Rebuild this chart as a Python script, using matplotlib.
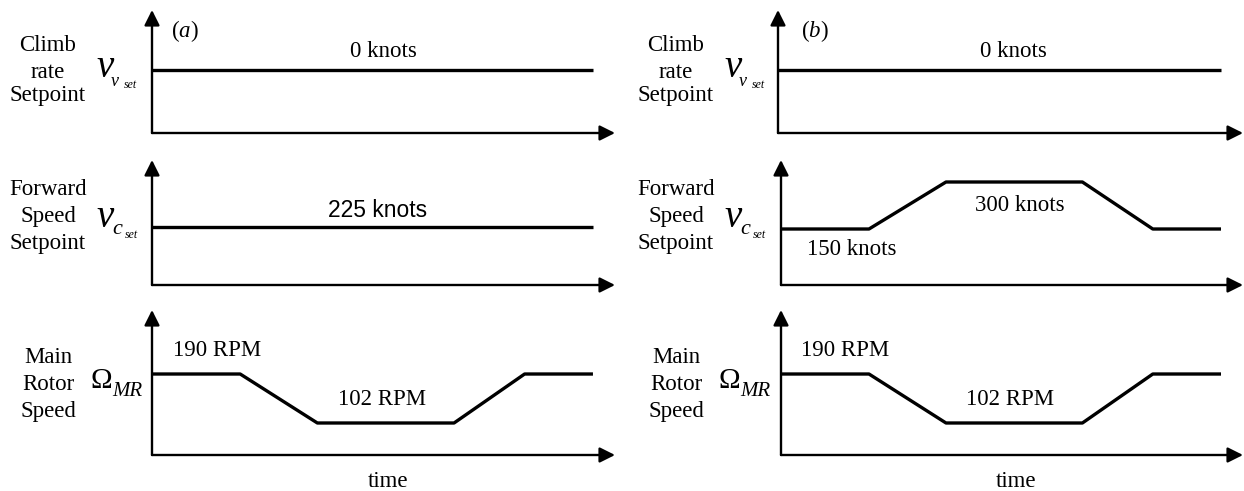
import numpy as np
import matplotlib
matplotlib.use('Agg')
import matplotlib.pyplot as plt

plt.rcParams['font.family'] = ['Liberation Serif', 'DejaVu Serif']
plt.rcParams['mathtext.fontset'] = 'custom'
plt.rcParams['mathtext.rm'] = 'Liberation Serif'
plt.rcParams['mathtext.it'] = 'Liberation Serif:italic'

W, H = 1244, 491

# schematic time breakpoints (arbitrary time units)
t_flat = [0, 10]
t_steps = [0, 2.0, 3.75, 6.85, 8.45, 10.0]

climb_rate = [0, 0]                               # knots, both cases
fwd_speed_a = [225, 225]                          # knots, case (a)
fwd_speed_b = [150, 150, 300, 300, 150, 150]      # knots, case (b)
rotor_rpm = [190, 190, 102, 102, 190, 190]        # RPM, both cases

row_labels = [['Climb', 'rate', 'Setpoint'],
              ['Forward', 'Speed', 'Setpoint'],
              ['Main', 'Rotor', 'Speed']]

fig = plt.figure(figsize=(W / 100, H / 100), dpi=100)


def fx(x):
    return x / W


def fy(y):
    return 1 - y / H


def make_axes(x0, x1, ytop, ybot, ylim):
    ax = fig.add_axes([fx(x0), fy(ybot), (x1 - x0) / W, (ybot - ytop) / H])
    ax.set_xlim(0, 10.5)
    ax.set_ylim(*ylim)
    ax.axis('off')
    arrow = dict(arrowstyle='-|>', color='black', lw=1.7,
                 mutation_scale=23, shrinkA=0, shrinkB=0)
    ax.annotate('', xy=(1, 0), xytext=(0, 0), xycoords='axes fraction',
                arrowprops=arrow)
    ax.annotate('', xy=(0, 1), xytext=(0, 0), xycoords='axes fraction',
                arrowprops=arrow)
    return ax


def ptext(ax, x, y, s, x0, x1, ytop, ybot, **kw):
    # place text given picture pixel coords, relative to the panel
    ax.text((x - x0) / (x1 - x0), (ybot - y) / (ybot - ytop), s,
            transform=ax.transAxes, ha='center', va='baseline',
            fontsize=16.5, **kw)


line_kw = dict(color='black', lw=2.4, clip_on=False, solid_capstyle='butt')

for col, dx in enumerate([0, 628]):
    x0_top = 152 if col == 0 else 778
    x0 = 152 if col == 0 else 781
    x1 = 615 if col == 0 else 1243

    # row 1: climb rate setpoint
    ax1 = make_axes(x0_top, x1, 10, 133, (-1, 0.95))
    ax1.plot(t_flat, climb_rate, **line_kw)
    ptext(ax1, 383 if col == 0 else 1013, 57, '0 knots', x0_top, x1, 10, 133)
    ptext(ax1, 185 if col == 0 else 815, 37,
          r'($a$)' if col == 0 else r'($b$)', x0_top, x1, 10, 133)

    # row 2: forward speed setpoint
    if col == 0:
        ax2 = make_axes(x0, x1, 160, 285, (0, 485))
        ax2.plot(t_flat, fwd_speed_a, **line_kw)
        ptext(ax2, 378, 217, '225 knots', x0, x1, 160, 285,
              family='Liberation Sans')
    else:
        ax2 = make_axes(x0, x1, 160, 285, (-28.7, 370.2))
        ax2.plot(t_steps, fwd_speed_b, **line_kw)
        ptext(ax2, 1020, 211, '300 knots', x0, x1, 160, 285)
        ptext(ax2, 852, 255, '150 knots', x0, x1, 160, 285)

    # row 3: main rotor speed
    ax3 = make_axes(x0, x1, 310, 455, (44.5, 305))
    ax3.plot(t_steps, rotor_rpm, **line_kw)
    ptext(ax3, 217 + dx, 356, '190 RPM', x0, x1, 310, 455)
    ptext(ax3, 382 + dx, 405, '102 RPM', x0, x1, 310, 455)
    ptext(ax3, 388 + dx, 487, 'time', x0, x1, 310, 455)

    # row titles on the left
    baselines = [[51, 78, 101], [195, 222, 249], [363, 390, 417]]
    for labels, ys in zip(row_labels, baselines):
        for s, y in zip(labels, ys):
            fig.text(fx(48 + dx), fy(y), s, ha='center', va='baseline',
                     fontsize=16.5)

    # symbols
    fig.text(fx(96 + dx), fy(77), 'v', style='italic', fontsize=28,
             va='baseline')
    fig.text(fx(111 + dx), fy(86), 'v', style='italic', fontsize=13,
             va='baseline')
    fig.text(fx(124 + dx), fy(88), 'set', style='italic', fontsize=8.5,
             va='baseline')

    fig.text(fx(96 + dx), fy(227), 'v', style='italic', fontsize=28,
             va='baseline')
    fig.text(fx(112 + dx), fy(234), 'c', style='italic', fontsize=16,
             va='baseline')
    fig.text(fx(125 + dx), fy(238), 'set', style='italic', fontsize=8.5,
             va='baseline')

    fig.text(fx(90 + dx), fy(388), 'Ω', fontsize=21, va='baseline')
    fig.text(fx(112 + dx), fy(396), 'MR', style='italic', fontsize=15,
             va='baseline')

fig.savefig('out.png', dpi=100)
